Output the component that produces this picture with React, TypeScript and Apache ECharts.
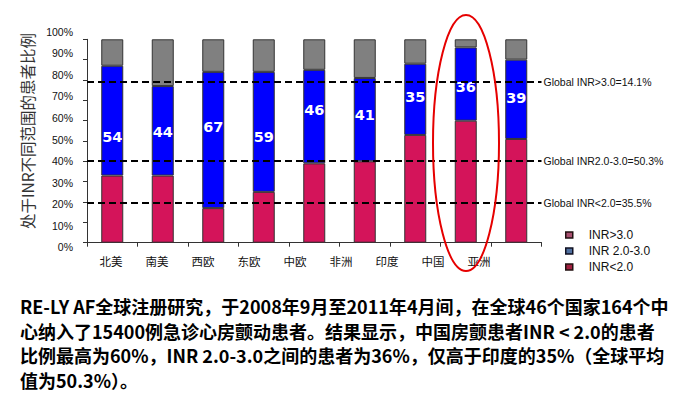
import React, { useEffect, useRef } from "react";
import * as echarts from "echarts";

const regions = ["北美", "南美", "西欧", "东欧", "中欧", "非洲", "印度", "中国", "亚洲"];
const inrBelow2 = [33, 33, 17, 25, 39, 40, 53, 60, 51];
const inr2to3 = [54, 44, 67, 59, 46, 41, 35, 36, 39];
const inrAbove3 = [13, 23, 16, 16, 15, 19, 12, 4, 10];
const yTickLabels = ["0%", "10%", "20%", "30%", "40%", "50%", "60%", "70%", "80%", "90%", "100%"];
const globalLevels = [79.2, 40.2, 19.5];
const globalTexts = ["Global INR>3.0=14.1%", "Global INR2.0-3.0=50.3%", "Global INR<2.0=35.5%"];
const seriesNames = ["INR>3.0", "INR 2.0-3.0", "INR<2.0"];
const labelShiftY = [16, 1, -13, 5, -7, -5, -2, 3, -1];

const captionLines = [
  "RE-LY AF全球注册研究，于2008年9月至2011年4月间，在全球46个国家164个中",
  "心纳入了15400例急诊心房颤动患者。结果显示，中国房颤患者INR < 2.0的患者",
  "比例最高为60%，INR 2.0-3.0之间的患者为36%，仅高于印度的35%（全球平均",
  "值为50.3%）。",
];

export default function App() {
  const ref = useRef<HTMLDivElement>(null);
  useEffect(() => {
    document.body.style.margin = "0";
    const chart = echarts.init(ref.current!, null, { renderer: "svg" });
    const border = { borderColor: "#333", borderWidth: 1 };
    chart.setOption({
      animation: false,
      backgroundColor: "#fff",
      grid: [
        { left: 87, right: 134.5, top: 39.3, bottom: 155.3 },
        { left: 88, right: 174, top: 31.7, bottom: 150.7 },
      ],
      xAxis: [
        {
          type: "category",
          gridIndex: 0,
          data: regions,
          axisLine: { lineStyle: { color: "#333", width: 1 } },
          axisTick: { show: true, length: 4, lineStyle: { color: "#333" } },
          axisLabel: { show: false },
        },
        {
          type: "category",
          gridIndex: 1,
          data: regions,
          axisLine: { show: false },
          axisTick: { show: false },
          axisLabel: {
            show: true,
            margin: 8,
            color: "#111",
            fontSize: 11.5,
            fontFamily: "Noto Sans CJK SC",
          },
        },
      ],
      yAxis: [
        {
          type: "value",
          gridIndex: 0,
          min: 0,
          max: 100,
          interval: 10,
          axisLine: { show: true, lineStyle: { color: "#333" } },
          axisTick: { show: true, length: 4, lineStyle: { color: "#333" } },
          axisLabel: { show: false },
          splitLine: { show: false },
        },
        {
          type: "value",
          gridIndex: 1,
          min: 0,
          max: 100,
          interval: 10,
          axisLine: { show: false },
          axisTick: { show: false },
          splitLine: { show: false },
          axisLabel: {
            show: true,
            margin: 15,
            color: "#111",
            fontSize: 10.5,
            fontFamily: "Liberation Sans",
            formatter: (v: number) => yTickLabels[Math.round(v / 10)],
          },
        },
      ],
      legend: {
        orient: "vertical",
        left: 560,
        top: 224,
        itemWidth: 7,
        itemHeight: 6,
        itemGap: 4,
        icon: "rect",
        textStyle: {
          fontSize: 12,
          color: "#111",
          fontFamily: "Liberation Sans",
          lineHeight: 12,
          padding: [0, 0, 0, 11],
        },
        data: [
          { name: seriesNames[0], itemStyle: { color: "#A85070", borderColor: "#221111", borderWidth: 1.5 } },
          { name: seriesNames[1], itemStyle: { color: "#5070A0", borderColor: "#111122", borderWidth: 1.5 } },
          { name: seriesNames[2], itemStyle: { color: "#A02040", borderColor: "#221111", borderWidth: 1.5 } },
        ],
      },
      series: [
        {
          name: seriesNames[2],
          type: "bar",
          stack: "s",
          barWidth: 22,
          data: inrBelow2,
          itemStyle: { color: "#D4145A", ...border },
          markLine: {
            silent: true,
            symbol: "none",
            lineStyle: { color: "#000", type: [7, 4], width: 2 },
            label: {
              position: "end",
              distance: 2,
              color: "#111",
              fontSize: 10.5,
              fontFamily: "Liberation Sans",
            },
            data: globalLevels.map((v, i) => ({
              yAxis: v,
              label: { formatter: globalTexts[i] },
            })),
          },
        },
        {
          name: seriesNames[1],
          type: "bar",
          stack: "s",
          barWidth: 22,
          data: inr2to3.map((v, i) => ({
            value: v,
            label: { offset: [0, labelShiftY[i]] },
          })),
          itemStyle: { color: "#0000FF", ...border },
          label: {
            show: true,
            position: "inside",
            color: "#fff",
            fontWeight: "bold",
            fontSize: 14.5,
            fontFamily: "DejaVu Sans",
          },
        },
        {
          name: seriesNames[0],
          type: "bar",
          stack: "s",
          barWidth: 22,
          data: inrAbove3,
          itemStyle: { color: "#808080", ...border },
        },
      ],
      graphic: [
        {
          type: "text",
          x: 27,
          y: 131,
          rotation: Math.PI / 2,
          style: {
            text: "处于INR不同范围的患者比例",
            fontSize: 15.5,
            fontFamily: "Noto Sans CJK SC",
            fill: "#333",
            align: "center",
            verticalAlign: "middle",
          },
        },
        {
          type: "ellipse",
          z: 100,
          shape: { cx: 466, cy: 143, rx: 33, ry: 128 },
          style: { fill: "none", stroke: "#E60000", lineWidth: 2 },
        },
        {
          type: "text",
          x: 20,
          y: 294,
          style: {
            text: captionLines.join("\n"),
            fontSize: 18,
            lineHeight: 24.5,
            fontWeight: "bold",
            fontFamily: "Noto Sans CJK SC",
            fill: "#000",
          },
        },
      ],
    });
    return () => chart.dispose();
  }, []);
  return <div ref={ref} style={{ width: 676, height: 398 }} />;
}
